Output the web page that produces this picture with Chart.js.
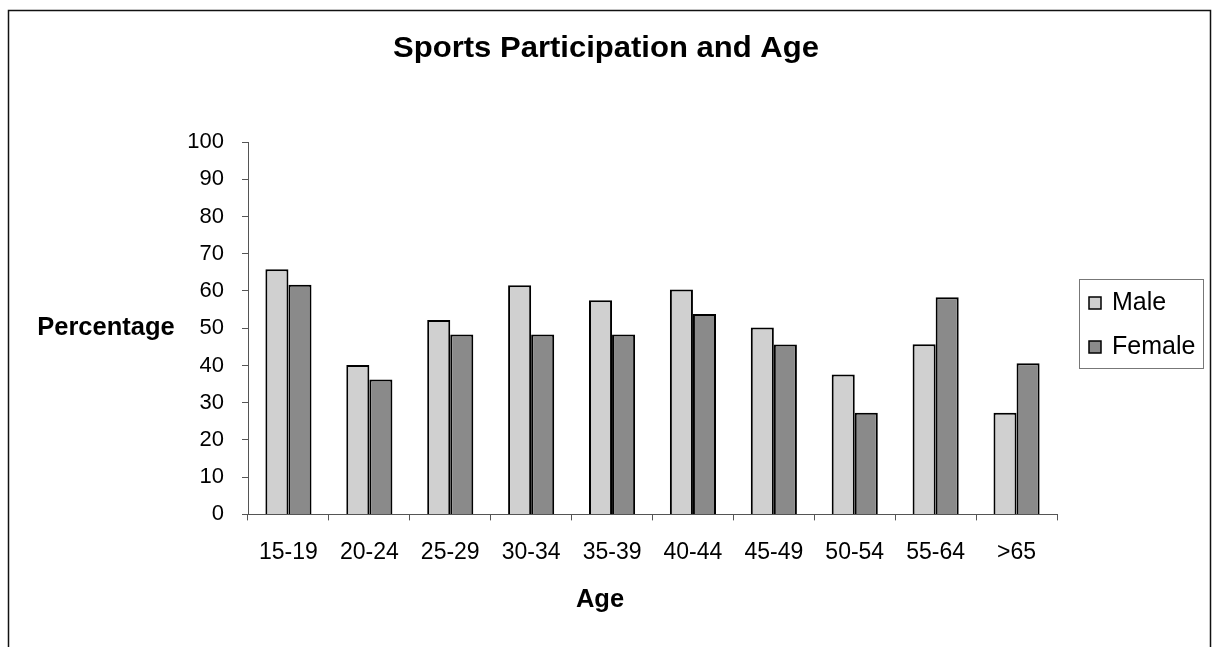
<!DOCTYPE html>
<html>
<head>
<meta charset="utf-8">
<script src="https://cdn.jsdelivr.net/npm/chart.js@4"></script>
<style>
  html, body { margin: 0; padding: 0; background: #fff; }
  #wrap { width: 1216px; height: 647px; }
</style>
</head>
<body>
<div id="wrap"><canvas id="chart" width="1216" height="647"></canvas></div>
<script>
// datos
const ageGroups = ["15-19", "20-24", "25-29", "30-34", "35-39", "40-44", "45-49", "50-54", "55-64", ">65"];
const male = [65.8, 40.1, 52.2, 61.5, 57.5, 60.4, 50.2, 37.6, 45.7, 27.3];
const female = [61.7, 36.2, 48.3, 48.3, 48.3, 53.8, 45.6, 27.3, 58.3, 40.6];
const yTicks = [0, 10, 20, 30, 40, 50, 60, 70, 80, 90, 100];

const FONT = "Arial, 'Liberation Sans', sans-serif";

// texto con estiramiento horizontal
function drawText(ctx, text, x, y, font, sx) {
  ctx.save();
  ctx.font = font;
  ctx.translate(x, y);
  ctx.scale(sx, 1);
  ctx.fillText(text, 0, 0);
  ctx.restore();
}

// marco, titulos y leyenda con borde
const extras = {
  id: "extras",
  afterDraw(chart) {
    const ctx = chart.ctx;
    ctx.save();
    // marco
    ctx.strokeStyle = "#111";
    ctx.lineWidth = 1.5;
    ctx.strokeRect(8.5, 10.5, 1202, 700);

    ctx.fillStyle = "#000";
    ctx.textAlign = "center";
    // titulo
    ctx.textBaseline = "alphabetic";
    drawText(ctx, "Sports Participation and Age", 606, 57, "bold 29px " + FONT, 1.07);

    ctx.textBaseline = "middle";
    // titulo eje Y horizontal
    drawText(ctx, "Percentage", 106, chart.scales.y.getPixelForValue(50), "bold 25.5px " + FONT, 1);
    // titulo eje X
    drawText(ctx, "Age", 600, 600, "bold 25.5px " + FONT, 1);

    // leyenda
    const lx = 1079, ly = 279, lw = 124, lh = 89;
    ctx.strokeStyle = "#777";
    ctx.lineWidth = 1;
    ctx.strokeRect(lx + 0.5, ly + 0.5, lw, lh);
    ctx.textAlign = "left";
    chart.data.datasets.forEach((ds, i) => {
      const cy = ly + 24 + i * 44;
      ctx.fillStyle = ds.backgroundColor;
      ctx.fillRect(lx + 10, cy - 6, 12, 12);
      ctx.strokeStyle = "#000";
      ctx.lineWidth = 1.5;
      ctx.strokeRect(lx + 10, cy - 6, 12, 12);
      ctx.fillStyle = "#000";
      drawText(ctx, ds.label, lx + 33, cy, "25px " + FONT, 1);
    });
    ctx.restore();
  }
};

new Chart(document.getElementById("chart"), {
  type: "bar",
  data: {
    labels: ageGroups,
    datasets: [
      {
        label: "Male",
        data: male,
        backgroundColor: "#d0d0d0",
        borderColor: "#000",
        borderWidth: 2,
        categoryPercentage: 0.57,
        barPercentage: 1.0
      },
      {
        label: "Female",
        data: female,
        backgroundColor: "#8a8a8a",
        borderColor: "#000",
        borderWidth: 2,
        categoryPercentage: 0.57,
        barPercentage: 1.0
      }
    ]
  },
  options: {
    responsive: false,
    animation: false,
    layout: { padding: { left: 8, right: 159, top: 142, bottom: 63 } },
    plugins: {
      legend: { display: false },
      tooltip: { enabled: false },
      title: { display: false }
    },
    scales: {
      x: {
        grid: { drawOnChartArea: false, tickLength: 6, color: "#555", offset: true },
        border: { color: "#555", width: 1 },
        ticks: { color: "#000", font: { family: FONT, size: 23 }, padding: 18, maxRotation: 0 }
      },
      y: {
        min: 0,
        max: 100,
        afterBuildTicks: s => { s.ticks = yTicks.map(v => ({ value: v })); },
        afterFit: s => { s.width = 240; },
        grid: { drawOnChartArea: false, tickLength: 6, color: "#555" },
        border: { color: "#555", width: 1 },
        ticks: { color: "#000", font: { family: FONT, size: 22 }, padding: 18 }
      }
    }
  },
  plugins: [extras]
});
</script>
</body>
</html>
